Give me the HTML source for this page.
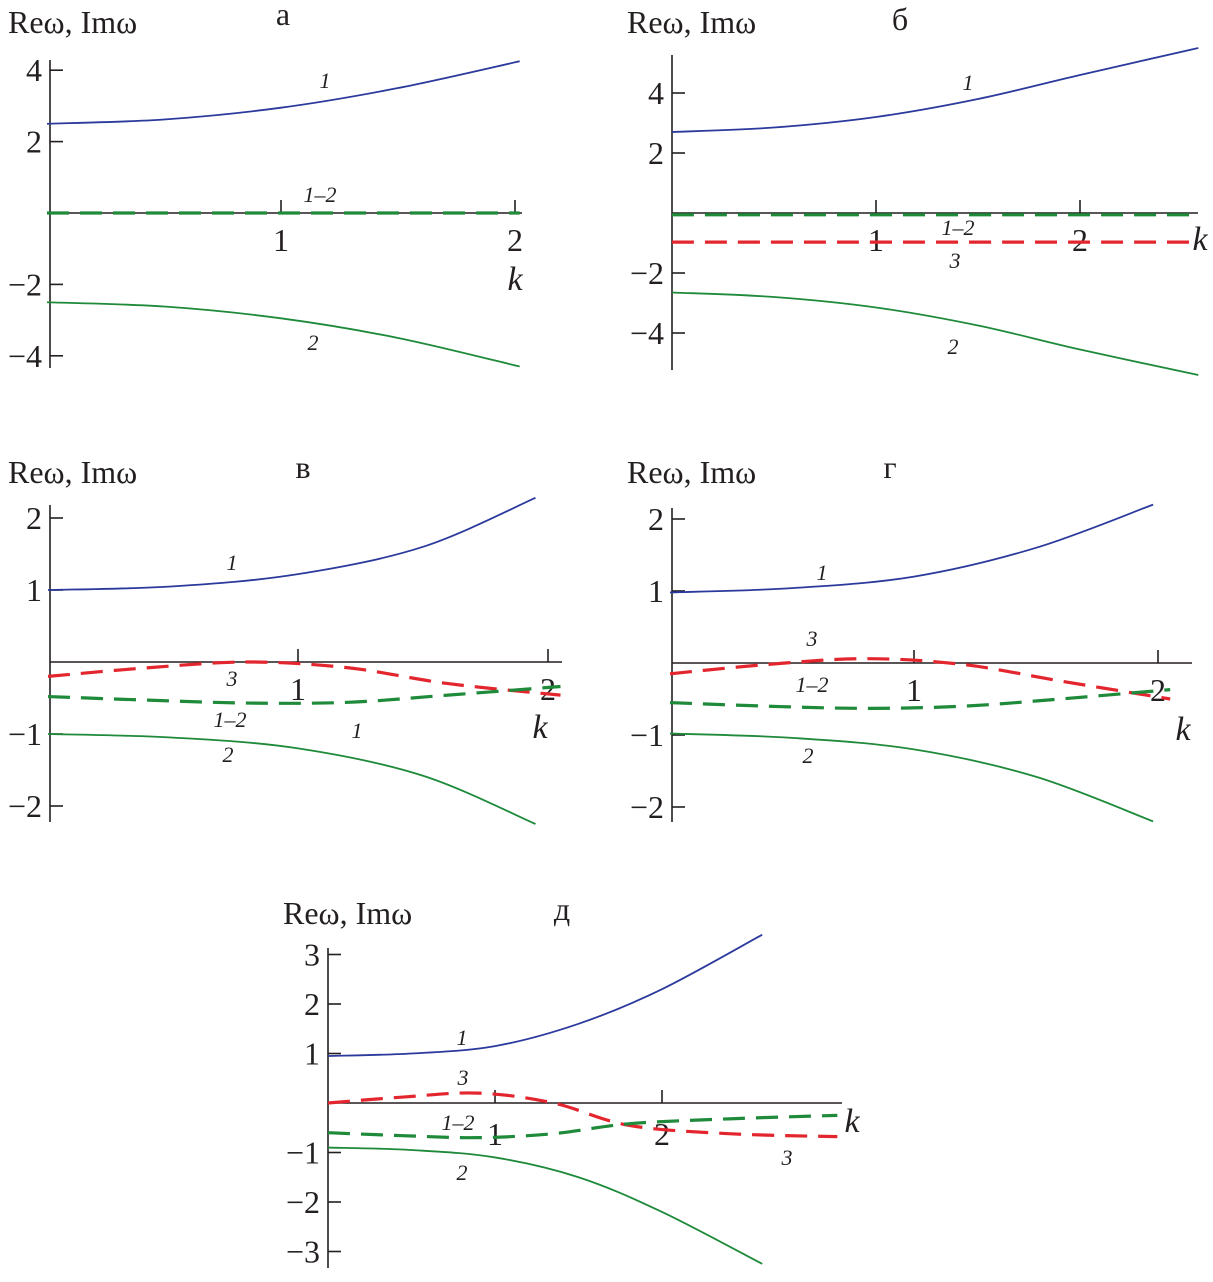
<!DOCTYPE html>
<html><head><meta charset="utf-8">
<style>
html,body{margin:0;padding:0;background:#fff;}
svg{display:block;}
text{font-family:"Liberation Serif",serif;fill:#231f20;}
</style></head>
<body>
<svg id="fig" width="1213" height="1282" viewBox="0 0 1213 1282" xmlns="http://www.w3.org/2000/svg"></svg>
<script>
// ---- data arrays (k values and omega values per panel) ----
const kA = [0, 0.5, 1, 1.5, 2.02];
const a1 = [2.5, 2.62, 2.95, 3.5, 4.25];
const a2 = [-2.5, -2.62, -2.95, -3.5, -4.3];
const a12 = [0, 0, 0, 0, 0];

const kB = [0, 0.5, 1, 1.5, 2, 2.58];
const b1 = [2.7, 2.85, 3.2, 3.8, 4.6, 5.5];
const b2 = [-2.65, -2.8, -3.15, -3.75, -4.55, -5.4];
const kBd = [0, 2.58];
const b12 = [-0.06, -0.06];
const b3 = [-0.97, -0.97];

const kV = [0, 0.5, 1, 1.5, 1.95];
const v1 = [1.0, 1.05, 1.22, 1.6, 2.28];
const v2 = [-1.0, -1.05, -1.2, -1.58, -2.25];
const kVd = [0, 0.4, 0.8, 1.2, 1.6, 2.05];
const v3 = [-0.2, -0.08, 0.0, -0.08, -0.3, -0.46];
const v12 = [-0.48, -0.53, -0.57, -0.56, -0.46, -0.34];

const kG = [0, 0.5, 1, 1.5, 1.98];
const g1 = [0.98, 1.04, 1.2, 1.6, 2.2];
const g2 = [-0.98, -1.04, -1.2, -1.58, -2.2];
const kGd = [0, 0.4, 0.8, 1.2, 1.6, 2.05];
const g3 = [-0.15, -0.02, 0.06, -0.02, -0.25, -0.5];
const g12 = [-0.55, -0.6, -0.63, -0.6, -0.5, -0.37];

const kD = [0, 0.5, 1, 1.5, 2, 2.6];
const d1 = [0.95, 1.0, 1.15, 1.6, 2.3, 3.4];
const d2 = [-0.9, -0.95, -1.1, -1.5, -2.2, -3.25];
const kDd = [0, 0.45, 0.9, 1.35, 1.8, 2.4, 3.05];
const d3 = [0.0, 0.12, 0.2, 0.0, -0.45, -0.62, -0.68];
const d12 = [-0.6, -0.66, -0.7, -0.62, -0.42, -0.32, -0.25];

const yTicksA = [4, 2, -2, -4];
const yTicksB = [4, 2, -2, -4];
const yTicksV = [2, 1, -1, -2];
const yTicksG = [2, 1, -1, -2];
const yTicksD = [3, 2, 1, -1, -2, -3];
const xTicks = [1, 2];

const NS = "http://www.w3.org/2000/svg";
const svg = document.getElementById('fig');
function el(tag, attrs, parent){ const e=document.createElementNS(NS,tag); for(const k in attrs) e.setAttribute(k,attrs[k]); (parent||svg).appendChild(e); return e; }
function txt(x,y,s,size,italic,anchor,name,parent){
  const t=el('text',{x:x,y:y,'font-size':size,'text-anchor':anchor||'middle'},parent);
  if(italic) t.setAttribute('font-style','italic');
  
  
  t.textContent=s; return t;
}
const BLUE='#2b3a9c', GREEN='#1e8a3a', RED='#e3262e';

function panel(p){
  const g=el('g',{});
  
  
  const X=k=>p.x0+k*p.sx, Y=v=>p.y0-v*p.sy;
  // axes
  const ya=el('line',{x1:p.ax,y1:p.yTop,x2:p.ax,y2:p.yBot,stroke:'#231f20','stroke-width':1.6},g);
   
  const xa=el('line',{x1:p.ax,y1:Y(0),x2:p.xEnd,y2:Y(0),stroke:'#231f20','stroke-width':1.6},g);
   
  p.yt.forEach(v=>{
    const t=el('line',{x1:p.ax,y1:Y(v),x2:p.ax+13,y2:Y(v),stroke:'#231f20','stroke-width':1.6},g);
     
    txt(p.ax-8,Y(v)+11,(v<0?'\u2212':'')+Math.abs(v),32,false,'end','y-tick-label',g);
  });
  xTicks.forEach(v=>{
    const t=el('line',{x1:X(v),y1:Y(0),x2:X(v),y2:Y(0)-13,stroke:'#231f20','stroke-width':1.6},g);
     
    txt(X(v),Y(0)+p.xlOff,String(v),32,false,'middle','x-tick-label',g);
  });
  // series
  p.series.forEach(s=>{
    const d=s.k.map((k,i)=>(i?'L':'M')+X(k).toFixed(1)+','+Y(s.v[i]).toFixed(1)).join(' ');
    const pts=s.k.map((k,i)=>[X(k),Y(s.v[i])]);
    // smooth via catmull-rom
    let path='M'+pts[0][0]+','+pts[0][1];
    for(let i=0;i<pts.length-1;i++){
      const p0=pts[i-1]||pts[i],p1=pts[i],p2=pts[i+1],p3=pts[i+2]||p2;
      path+=' C'+(p1[0]+(p2[0]-p0[0])/6)+','+(p1[1]+(p2[1]-p0[1])/6)+' '+(p2[0]-(p3[0]-p1[0])/6)+','+(p2[1]-(p3[1]-p1[1])/6)+' '+p2[0]+','+p2[1];
    }
    const e=el('path',{d:path,fill:'none',stroke:s.c,'stroke-width':s.dash?3.2:1.8},g);
    if(s.dash) e.setAttribute('stroke-dasharray','22,11');
    
    
  });
  p.labels.forEach(l=>txt(l[0],l[1],l[2],l[3]||22,true,'middle',l[4],g));
  txt(p.tx,p.ty,'Re\u03c9, Im\u03c9',32,false,'start','y-axis-title',g);
  txt(p.lx,p.ly,p.letter,32,false,'middle','panel-letter',g);
}

panel({name:'panel-a',x0:47,sx:234,y0:213,sy:35.7,ax:50,yTop:60,yBot:368,xEnd:522,yt:yTicksA,xlOff:38,
  tx:8,ty:33,lx:283,ly:25,letter:'а',
  series:[{k:kA,v:a1,c:BLUE,name:'curve-1'},{k:kA,v:a2,c:GREEN,name:'curve-2'},{k:kA,v:a12,c:GREEN,dash:1,name:'curve-1-2'}],
  labels:[[325,88,'1',22,'label-1'],[320,202,'1–2',22,'label-1-2'],[313,350,'2',22,'label-2'],[515,290,'k',34,'x-axis-title']]});

panel({name:'panel-b',x0:672,sx:204,y0:213,sy:30,ax:672,yTop:55,yBot:370,xEnd:1198,yt:yTicksB,xlOff:38,
  tx:627,ty:33,lx:900,ly:30,letter:'б',
  series:[{k:kB,v:b1,c:BLUE,name:'curve-1'},{k:kB,v:b2,c:GREEN,name:'curve-2'},{k:kBd,v:b12,c:GREEN,dash:1,name:'curve-1-2'},{k:kBd,v:b3,c:RED,dash:1,name:'curve-3'}],
  labels:[[968,90,'1',22,'label-1'],[958,235,'1–2',22,'label-1-2'],[955,268,'3',22,'label-3'],[953,354,'2',22,'label-2'],[1200,250,'k',34,'x-axis-title']]});

panel({name:'panel-v',x0:48,sx:250,y0:662,sy:72,ax:50,yTop:505,yBot:822,xEnd:562,yt:yTicksV,xlOff:38,
  tx:8,ty:483,lx:303,ly:478,letter:'в',
  series:[{k:kV,v:v1,c:BLUE,name:'curve-1'},{k:kV,v:v2,c:GREEN,name:'curve-2'},{k:kVd,v:v3,c:RED,dash:1,name:'curve-3'},{k:kVd,v:v12,c:GREEN,dash:1,name:'curve-1-2'}],
  labels:[[232,570,'1',22,'label-1'],[232,686,'3',22,'label-3'],[230,727,'1–2',22,'label-1-2'],[357,738,'1',22,'label-1b'],[228,762,'2',22,'label-2'],[540,738,'k',34,'x-axis-title']]});

panel({name:'panel-g',x0:670,sx:244,y0:663,sy:72,ax:672,yTop:508,yBot:822,xEnd:1192,yt:yTicksG,xlOff:38,
  tx:627,ty:483,lx:890,ly:478,letter:'г',
  series:[{k:kG,v:g1,c:BLUE,name:'curve-1'},{k:kG,v:g2,c:GREEN,name:'curve-2'},{k:kGd,v:g3,c:RED,dash:1,name:'curve-3'},{k:kGd,v:g12,c:GREEN,dash:1,name:'curve-1-2'}],
  labels:[[822,580,'1',22,'label-1'],[812,646,'3',22,'label-3'],[812,692,'1–2',22,'label-1-2'],[808,763,'2',22,'label-2'],[1183,740,'k',34,'x-axis-title']]});

panel({name:'panel-d',x0:328,sx:167,y0:1103,sy:49.5,ax:328,yTop:948,yBot:1268,xEnd:842,yt:yTicksD,xlOff:42,
  tx:283,ty:924,lx:562,ly:920,letter:'д',
  series:[{k:kD,v:d1,c:BLUE,name:'curve-1'},{k:kD,v:d2,c:GREEN,name:'curve-2'},{k:kDd,v:d3,c:RED,dash:1,name:'curve-3'},{k:kDd,v:d12,c:GREEN,dash:1,name:'curve-1-2'}],
  labels:[[462,1045,'1',22,'label-1'],[463,1085,'3',22,'label-3'],[458,1130,'1–2',22,'label-1-2'],[462,1180,'2',22,'label-2'],[787,1165,'3',22,'label-3b'],[852,1132,'k',34,'x-axis-title']]});
</script>
</body></html>
